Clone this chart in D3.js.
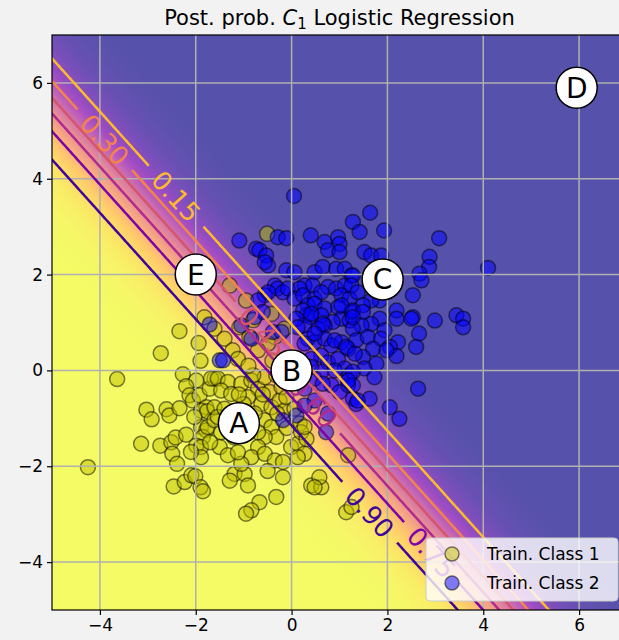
<!DOCTYPE html>
<html>
<head>
<meta charset="utf-8">
<script src="https://cdn.jsdelivr.net/npm/d3@7"></script>
<style>
body { margin: 0; background: #f2f2f2; }
text { font-family: "DejaVu Sans", sans-serif; }
</style>
</head>
<body>
<svg width="619" height="640"></svg>
<script>
const WIDTH = 619
const HEIGHT = 640
const X_DOMAIN = [-5, 7]
const Y_DOMAIN = [-5, 7]
const X_TICKS = [-4, -2, 0, 2, 4, 6]
const Y_TICKS = [-4, -2, 0, 2, 4, 6]

// logistic model: logit = W[0]*x + W[1]*y + B0
const W = [-2.068, -1.863]
const B0 = 0.055
const LEVELS = [0.15, 0.30, 0.45, 0.60, 0.75, 0.90]
const LABEL_X = [-2.41, -3.9, -0.6, 0.44, 2.92, 1.63]   // where each contour label sits

const class1 = [
  [-2.34,0.82],[-1.94,0.57],[-2.73,0.36],[-3.64,-0.18],[-4.25,-2.02],[-3.03,-0.82],[-2.92,-1.02],
  [-2.61,-0.81],[-2.55,-0.94],[-2.34,-0.79],[-3.14,-1.53],[-2.74,-1.57],[-2.51,-1.50],[-2.42,-1.40],
  [-2.20,-1.34],[-2.49,-1.74],[-2.39,-1.95],[-2.46,-2.42],[-2.23,-2.33],[-2.09,-2.19],[-2.01,-2.21],
  [-1.90,-2.44],[-1.85,-2.52],[-2.27,-0.08],[-1.99,-0.21],[-2.20,-0.33],[-2.13,-0.52],[-2.06,-0.63],
  [-1.92,-0.52],[-1.78,-0.77],[-1.89,-0.84],[-1.71,-0.38],[-1.61,-0.17],[-1.68,-0.17],[-1.76,-0.85],
  [-1.89,-1.18],[-1.78,-1.25],[-1.85,-1.39],[-1.99,-1.57],[-1.89,-1.60],[-1.89,-1.81],[-1.75,-1.18],
  [-1.61,-1.04],[-2.03,-0.97],[-1.82,1.11],
  [-1.61,0.87],[-1.40,0.66],[-1.23,0.42],[-1.12,0.24],[-1.54,-0.17],[-1.33,-0.24],[-1.47,-0.42],
  [-1.26,-0.49],[-1.05,-0.28],[-0.84,-0.21],[-0.70,-0.38],[-0.91,-0.56],[-0.56,-0.14],[-0.46,-0.45],
  [-0.63,-0.70],[-0.42,-0.77],[-0.25,-0.63],[-0.15,-0.84],[-0.56,-1.04],[-0.42,-1.18],[-0.32,-1.39],
  [-0.56,-1.39],[-0.70,-1.60],[-0.84,-1.81],[-0.56,-1.74],[-0.35,-1.88],[-0.18,-1.91],[-0.01,-1.60],
  [0.13,-1.53],[0.27,-1.74],[0.13,-1.81],[-0.18,-2.23],[0.41,-2.40],[0.62,-2.44],[0.58,-2.23],
  [0.48,-2.44],[1.18,-1.77],[1.14,-2.96],[1.25,-2.85],[-0.32,-2.64],[-0.67,-2.75],[-0.84,-2.92],
  [-0.95,-2.99],[-1.19,-2.16],[-0.98,-2.16],[-1.05,-1.95],[-0.91,-2.40],[-1.29,-2.30],[-1.50,-1.60],
  [-1.33,-1.77],[-1.12,-1.71],[-1.47,-1.29],[-0.70,-1.29],[-0.77,-0.90],[-1.61,-0.77],[-1.54,-0.97],
  [-0.21,-0.35],[-0.32,-0.10],[-0.11,-0.56],[0.06,-0.80],[0.17,-1.11],[0.20,-1.29],[0.31,-1.43],
  [0.27,-1.18],
  [-0.51,2.85],[-0.42,1.18],[-0.95,1.46],[-1.29,1.77],[-0.15,0.87],[-0.35,0.70],[-0.49,0.56],
  [-0.70,0.42],[-0.80,1.05],[-1.09,0.90],[-0.88,0.70],
  [-1.3,-1.0],[-1.0,-0.7],[-0.9,-1.3],[-1.2,-1.4],[-1.4,-0.8],[-0.6,-0.5],[-0.3,-0.9],[-0.8,-0.1],
  [-1.1,-0.5],[-1.7,-1.5],[-2.1,-1.7],[-0.5,-2.1],[-0.1,-1.2],[-0.9,0.1],[-0.4,0.2],[-1.9,0.2]
]

const class2 = [
  [-1.71,0.96],[-1.50,0.21],[-1.43,0.21],[0.10,-0.94],[-0.18,-1.04],[0.72,-1.29],
  [0.05,3.64],[-1.09,2.71],[-0.29,2.78],[-0.11,2.76],[0.40,2.82],[0.69,2.68],[0.97,2.78],[1.00,2.64],
  [0.76,2.51],[1.00,2.47],[-0.74,2.54],[-0.67,2.51],[-0.53,2.40],[-0.49,2.19],[-0.56,2.26],[-0.11,2.09],
  [0.06,2.05],[0.48,2.05],[0.65,2.16],[0.93,2.12],[1.11,2.12],[1.25,1.98],[0.27,1.77],[0.44,1.77],
  [-0.35,1.77],[-0.29,1.71],[-0.18,1.63],[-0.08,1.71],[0.17,1.71],[0.76,1.74],[0.93,1.71],[1.11,1.77],
  [-0.56,1.57],[-0.49,1.63],[0.06,1.50],[0.24,1.57],[0.48,1.50],[0.62,1.63],[1.04,1.57],[1.21,1.50],
  [0.34,1.36],[0.48,1.39],[0.69,1.29],[0.97,1.32],[-0.70,1.46],[-0.60,1.22],[0.31,1.15],[0.41,1.11],
  [0.24,1.25],[0.62,1.15],[1.04,1.08],[1.21,1.04],[1.25,1.22],[0.86,1.01],[0.69,0.94],[0.55,0.87],
  [0.27,0.94],[0.10,1.08],[-0.39,0.80],[-0.77,1.11],[-1.05,0.94],[-0.84,0.66],[0.34,0.66],[0.48,0.59],
  [0.69,0.66],[0.83,0.52],[1.04,0.59],[1.18,0.45],[0.62,0.31],[0.76,0.17],[0.97,0.24],[1.11,0.04],
  [1.21,-0.10],[0.62,-0.03],[0.41,0.24],[0.48,-0.17],[0.27,-0.38],[0.83,-0.31],[1.00,-0.45],[1.18,-0.31],
  [1.28,-0.59],
  [1.64,3.29],[1.28,3.10],[1.42,2.89],[1.93,2.92],[3.08,2.76],[1.52,2.47],[1.66,2.40],[1.87,2.40],
  [2.88,2.37],[2.87,2.16],[2.67,2.02],[2.71,1.88],[4.10,2.14],[1.28,1.98],[1.25,1.77],[1.38,1.63],
  [2.53,1.57],[1.84,1.46],[1.66,1.46],[1.49,1.36],[1.28,1.25],[1.49,1.22],[2.19,1.25],[2.19,1.08],
  [2.53,1.11],[2.50,1.08],[2.99,1.04],[3.44,1.15],[3.58,1.08],[3.58,0.90],[1.84,1.08],[1.66,0.97],
  [1.94,0.84],[1.46,0.94],[1.28,0.87],[1.35,0.63],[1.59,0.70],[1.87,0.66],[2.22,0.59],[2.66,0.77],
  [2.60,0.49],[2.05,0.49],[1.70,0.45],[1.49,0.28],[2.19,0.30],[1.98,0.42],[1.77,0.14],[1.52,0.04],
  [1.73,-0.14],[1.28,-0.03],[1.28,-0.31],[2.64,-0.38],[1.63,-0.59],[1.35,-0.70],[2.05,-0.77],[2.25,-1.01],
  [0.41,1.18],[0.65,0.97],[1.04,1.36],[1.28,1.11],[0.90,0.63],[1.14,0.49],[1.32,0.35],[0.48,0.77],
  [0.27,0.56],[0.13,0.90],[-0.21,0.80],[0.90,0.00],[1.18,-0.21],[0.65,-0.28],[0.41,0.07],[0.48,-0.63],
  [0.76,-0.90],[1.38,-0.63],[0.27,-0.73]
]

const markNames = ["A", "B", "C", "D", "E"]
const markX = [-1.1, 0.0, 1.9, 5.95, -2.0]
const markY = [-1.1, 0.0, 1.9, 5.9, 2.0]

const legendNames = ["Train. Class 1", "Train. Class 2"]
const classColors = ["#bfbf00", "#0000ff"]

function prob(px, py) {
    return 1 / (1 + Math.exp(-(W[0] * px + W[1] * py + B0)))
}

const svg = d3.select("svg")
const x = d3.scaleLinear().domain(X_DOMAIN).range([52, 627])
const y = d3.scaleLinear().domain(Y_DOMAIN).range([610, 35])
const pw = x.range()[1] - x.range()[0], ph = y.range()[0] - y.range()[1]

const defs = svg.append("defs")
defs.append("clipPath").attr("id", "plot")
    .append("rect").attr("x", 52).attr("y", 35).attr("width", pw).attr("height", ph)

// heatmap (plasma, alpha 0.7 on white)
const canvas = document.createElement("canvas")
canvas.width = pw
canvas.height = ph
const ctx = canvas.getContext("2d")
const img = ctx.createImageData(pw, ph)
for (let j = 0; j < ph; j++) {
    for (let i = 0; i < pw; i++) {
        const c = d3.rgb(d3.interpolatePlasma(prob(x.invert(52 + i + 0.5), y.invert(35 + j + 0.5))))
        const k = (j * pw + i) * 4
        img.data[k] = 0.7 * c.r + 76.5
        img.data[k + 1] = 0.7 * c.g + 76.5
        img.data[k + 2] = 0.7 * c.b + 76.5
        img.data[k + 3] = 255
    }
}
ctx.putImageData(img, 0, 0)
svg.append("image")
    .attr("x", 52).attr("y", 35).attr("width", pw).attr("height", ph)
    .attr("href", canvas.toDataURL())

const chart = svg.append("g").attr("clip-path", "url(#plot)")

// scatter
;[class1, class2].forEach((pts, ci) => {
    chart.append("g").selectAll("circle")
        .data(pts)
        .join("circle")
        .attr("cx", d => x(d[0]))
        .attr("cy", d => y(d[1]))
        .attr("r", 7.5)
        .attr("fill", classColors[ci])
        .attr("fill-opacity", 0.5)
        .attr("stroke", "black")
        .attr("stroke-opacity", 0.5)
        .attr("stroke-width", 1.5)
})

// grid
chart.append("g").selectAll("line.gx").data(X_TICKS).join("line")
    .attr("x1", d => x(d)).attr("x2", d => x(d)).attr("y1", 35).attr("y2", 610)
    .attr("stroke", "#b0b0b0").attr("stroke-width", 1.5)
chart.append("g").selectAll("line.gy").data(Y_TICKS).join("line")
    .attr("y1", d => y(d)).attr("y2", d => y(d)).attr("x1", 52).attr("x2", 627)
    .attr("stroke", "#b0b0b0").attr("stroke-width", 1.5)

// contours on a grid that runs past the plot, so only the iso-lines show
const STEP = 0.05, GX0 = -6, GY0 = 8, N = 281
const values = new Array(N * N)
for (let j = 0; j < N; j++)
    for (let i = 0; i < N; i++)
        values[j * N + i] = prob(GX0 + i * STEP, GY0 - j * STEP)

const proj = d3.geoTransform({
    point: function(gx, gy) {
        this.stream.point(x(GX0 + (gx - 0.5) * STEP), y(GY0 - (gy - 0.5) * STEP))
    }
})
const path = d3.geoPath(proj)
const contours = d3.contours().size([N, N]).thresholds(LEVELS)(values)

// angle of the iso-lines on screen
const deg = Math.atan((W[0] / W[1]) * (x(1) - x(0)) / (y(0) - y(1))) * 180 / Math.PI

const labels = LEVELS.map((L, i) => {
    const lx = LABEL_X[i]
    const ly = (Math.log(L / (1 - L)) - B0 - W[0] * lx) / W[1]
    return { level: L, px: x(lx), py: y(ly), color: d3.interpolatePlasma(1 - L) }
})

const labelG = svg.append("g").attr("clip-path", "url(#plot)")
labelG.selectAll("text").data(labels).join("text")
    .attr("transform", d => `translate(${d.px},${d.py}) rotate(${deg})`)
    .attr("text-anchor", "middle")
    .attr("dy", "0.36em")
    .attr("font-size", 26)
    .attr("fill", d => d.color)
    .text(d => d.level.toFixed(2))

const mask = defs.append("mask").attr("id", "gaps").attr("maskUnits", "userSpaceOnUse")
    .attr("x", 0).attr("y", 0).attr("width", WIDTH).attr("height", HEIGHT)
mask.append("rect").attr("width", WIDTH).attr("height", HEIGHT).attr("fill", "white")
labelG.selectAll("text").each(function(d) {
    const w = this.getComputedTextLength() + 24
    mask.append("rect")
        .attr("x", -w / 2).attr("y", -8).attr("width", w).attr("height", 16)
        .attr("transform", `translate(${d.px},${d.py}) rotate(${deg})`)
        .attr("fill", "black")
})

chart.append("g").attr("mask", "url(#gaps)")
    .selectAll("path").data(contours).join("path")
    .attr("d", path)
    .attr("fill", "none")
    .attr("stroke", d => d3.interpolatePlasma(1 - d.value))
    .attr("stroke-width", 2.5)
labelG.raise()

// lettered markers
const mk = svg.append("g").selectAll("g").data(markNames).join("g")
    .attr("transform", (d, i) => `translate(${x(markX[i])},${y(markY[i])})`)
mk.append("circle").attr("r", 20.5).attr("fill", "white").attr("stroke", "black").attr("stroke-width", 1.5)
mk.append("text").attr("text-anchor", "middle").attr("dy", "0.36em").attr("font-size", 28).text(d => d)

// axes
const xAxis = svg.append("g").attr("transform", "translate(0,610)")
    .call(d3.axisBottom(x).tickValues(X_TICKS).tickSize(5).tickPadding(4))
const yAxis = svg.append("g").attr("transform", "translate(52,0)")
    .call(d3.axisLeft(y).tickValues(Y_TICKS).tickSize(5).tickPadding(4))
;[xAxis, yAxis].forEach(a => {
    a.select(".domain").remove()
    a.selectAll("text").attr("font-size", 17).attr("font-family", "DejaVu Sans").attr("fill", "black")
    a.selectAll("line").attr("stroke", "black").attr("stroke-width", 1.2)
})
svg.append("rect").attr("x", 52).attr("y", 35).attr("width", pw).attr("height", ph)
    .attr("fill", "none").attr("stroke", "black").attr("stroke-width", 1.2)

// legend
const lg = svg.append("g")
lg.append("rect").attr("x", 426).attr("y", 538).attr("width", 192).attr("height", 63).attr("rx", 4)
    .attr("fill", "white").attr("fill-opacity", 0.8).attr("stroke", "#cccccc")
legendNames.forEach((name, i) => {
    lg.append("circle").attr("cx", 452).attr("cy", 554 + i * 29).attr("r", 7)
        .attr("fill", classColors[i]).attr("fill-opacity", 0.5)
        .attr("stroke", "black").attr("stroke-opacity", 0.5).attr("stroke-width", 1.5)
    lg.append("text").attr("x", 487).attr("y", 560 + i * 29).attr("font-size", 17).text(name)
})

// title
const title = svg.append("text").attr("x", (x.range()[0] + x.range()[1]) / 2).attr("y", 25)
    .attr("text-anchor", "middle").attr("font-size", 21)
title.append("tspan").text("Post. prob. ")
title.append("tspan").attr("font-style", "italic").text("C")
title.append("tspan").attr("font-size", 15).attr("dy", 4).text("1")
title.append("tspan").attr("dy", -4).text(" Logistic Regression")
</script>
</body>
</html>
